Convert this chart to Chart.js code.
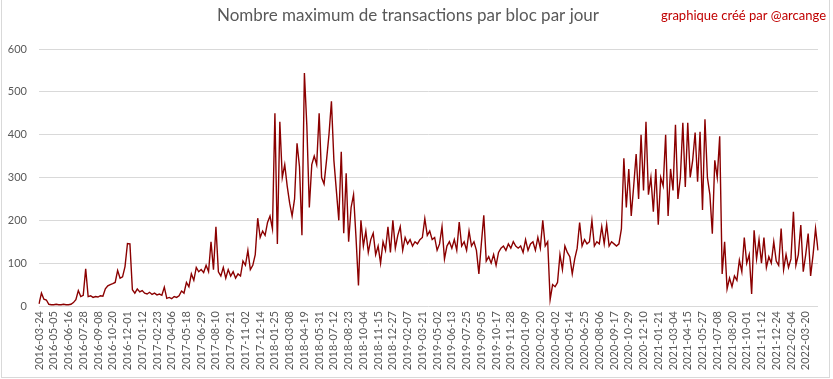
<!DOCTYPE html>
<html><head><meta charset="utf-8">
<script src="https://cdn.jsdelivr.net/npm/chart.js@4/dist/chart.umd.min.js"></script>
<style>html,body{margin:0;padding:0;background:#fff;}canvas{display:block;}</style>
</head><body><canvas id="c" width="833" height="379"></canvas>
<script>
const chartTitle = 'Nombre maximum de transactions par bloc par jour';
const creditText = 'graphique créé par @arcange';

const tickLabels = ['2016-03-24','2016-05-05','2016-06-16','2016-07-28','2016-09-08','2016-10-20','2016-12-01','2017-01-12','2017-02-23','2017-04-06','2017-05-18','2017-06-29','2017-08-10','2017-09-21','2017-11-02','2017-12-14','2018-01-25','2018-03-08','2018-04-19','2018-05-31','2018-07-12','2018-08-23','2018-10-04','2018-11-15','2018-12-27','2019-02-07','2019-03-21','2019-05-02','2019-06-13','2019-07-25','2019-09-05','2019-10-17','2019-11-28','2020-01-09','2020-02-20','2020-04-02','2020-05-14','2020-06-25','2020-08-06','2020-09-17','2020-10-29','2020-12-10','2021-01-21','2021-03-04','2021-04-15','2021-05-27','2021-07-08','2021-08-20','2021-10-01','2021-11-12','2021-12-24','2022-02-04','2022-03-20'];

// weekly readings of the daily maximum (one value per week from 2016-03-24)
const weeks2016 = [5,30,16,14,4,3,3,4,3,3,4,3,3,4,8,15,36,22,25,87,22,24,20,22,21,24,23,40,47,50,52,55,83,65,68,92,146,145,38,30,40];
const weeks2017 = [33,36,30,28,32,27,30,26,28,25,44,18,20,17,22,20,24,35,30,55,45,75,60,90,80,85,78,95,80,150,85,185,80,70,90,65,85,70,80,65,75,70,105,95,130,85,95,120,205,160,175,165];
const weeks2018 = [195,210,180,450,145,430,300,330,280,240,210,250,380,325,165,544,420,230,330,350,330,450,300,285,340,400,478,340,270,200,360,170,310,150,230,260,160,48,200,140,175,125,155,170,120,140,100,150,130,185,125,200];
const weeks2019 = [135,165,185,130,160,145,155,140,150,145,155,160,204,165,175,155,160,130,145,185,110,140,150,135,155,130,196,140,150,130,175,140,150,130,75,145,212,105,115,100,120,95,125,135,140,130,145,135,150,140,135,140];
const weeks2020 = [125,155,130,145,150,130,160,135,200,140,150,15,50,45,55,120,85,140,125,115,75,110,135,195,140,155,145,150,200,140,150,145,185,145,190,140,150,145,140,145,180,345,230,320,210,280,355,250,400,270,430,260,300];
const weeks2021 = [220,320,190,300,280,400,210,320,270,423,250,300,428,278,428,300,340,405,290,407,224,436,300,260,169,340,300,396,75,150,40,65,45,70,60,107,80,160,100,120,28,177,110,155,100,160,90,115,100,150,105,95];
const weeks2022 = [181,85,120,90,110,220,95,120,189,80,120,169,70,120,181,130];

const values = [].concat(weeks2016, weeks2017, weeks2018, weeks2019, weeks2020, weeks2021, weeks2022);
const categories = values.map((_, i) => i);
const TICK_EVERY = 6;

const decor = {
  id: 'decor',
  beforeDraw(chart) {
    const ctx = chart.ctx;
    ctx.save();
    ctx.fillStyle = '#ffffff';
    ctx.fillRect(0, 0, chart.width, chart.height);
    ctx.strokeStyle = '#d9d9d9';
    ctx.lineWidth = 1;
    ctx.strokeRect(1.5, -1, 828, 378.5);
    ctx.restore();
  },
  afterDraw(chart) {
    const ctx = chart.ctx;
    ctx.save();
    ctx.textBaseline = 'middle';
    ctx.textAlign = 'center';
    ctx.fillStyle = '#595959';
    ctx.font = '17px Lato';
    ctx.fillText(chartTitle, 408, 16);
    ctx.textAlign = 'right';
    ctx.fillStyle = '#c00000';
    ctx.font = '13px Lato';
    ctx.fillText(creditText, 826, 16);
    ctx.restore();
  }
};

new Chart(document.getElementById('c'), {
  type: 'line',
  data: {
    labels: categories,
    datasets: [{
      data: values,
      borderColor: '#8b0000',
      borderWidth: 1.4,
      pointRadius: 0,
      tension: 0,
      fill: false
    }]
  },
  options: {
    responsive: false,
    animation: false,
    devicePixelRatio: 1,
    layout: { padding: { top: 49, right: 15, left: 0, bottom: 0 } },
    plugins: { legend: { display: false }, tooltip: { enabled: false }, title: { display: false } },
    scales: {
      x: {
        type: 'category',
        offset: false,
        grid: { display: false, drawTicks: false },
        border: { display: false },
        ticks: {
          autoSkip: false, minRotation: 90, maxRotation: 90, padding: 5,
          color: '#595959', font: { family: 'Lato', size: 11 },
          callback: (v, i) => (i % TICK_EVERY === 0 ? tickLabels[i / TICK_EVERY] : null)
        },
        afterFit: (s) => { s.height = 73; }
      },
      y: {
        min: 0, max: 600,
        grid: { color: '#d9d9d9', drawTicks: false },
        border: { display: false },
        ticks: { stepSize: 100, padding: 12, color: '#595959', font: { family: 'Lato', size: 11 } },
        afterFit: (s) => { s.width = 39; }
      }
    }
  },
  plugins: [decor]
});
</script>
</body></html>
